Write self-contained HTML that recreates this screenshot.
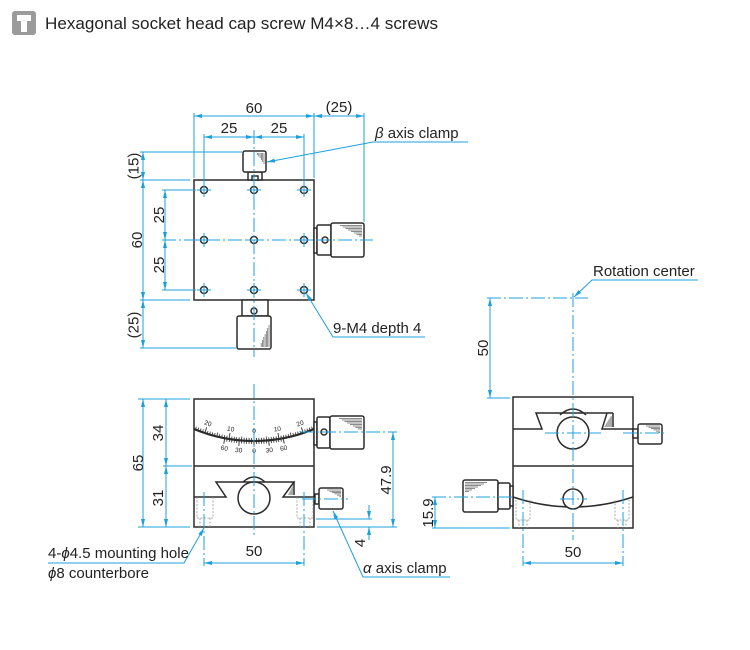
<!DOCTYPE html>
<html><head><meta charset="utf-8"><style>
html,body{margin:0;padding:0;background:#fff;}
svg{display:block;}
text{font-family:"Liberation Sans",Arial,sans-serif;fill:#222;}
</style></head><body>
<svg width="750" height="650" viewBox="0 0 750 650" xmlns="http://www.w3.org/2000/svg">
<defs>
<marker id="a" viewBox="0 0 8 4" refX="8" refY="2" markerWidth="8" markerHeight="4" markerUnits="userSpaceOnUse" orient="auto-start-reverse"><path d="M0,0L8,2L0,4z" fill="#1ca0dc"/></marker>
<line id="ts" x1="254" y1="441" x2="254" y2="438" stroke="#2b2b2b" stroke-width="0.8"/>
<line id="tm" x1="254" y1="441" x2="254" y2="437" stroke="#2b2b2b" stroke-width="0.8"/>
<line id="tl" x1="254" y1="441" x2="254" y2="435" stroke="#2b2b2b" stroke-width="0.9"/>
<line id="vs" x1="254" y1="441" x2="254" y2="444" stroke="#2b2b2b" stroke-width="0.8"/>
<line id="vl" x1="254" y1="441" x2="254" y2="446.5" stroke="#2b2b2b" stroke-width="0.9"/>
</defs>
<rect width="750" height="650" fill="#fff"/>

<!-- header -->
<rect x="12" y="11" width="24" height="24" rx="3" fill="#9b9b9b"/>
<path d="M17,15h14v6h-4v11h-6v-11h-4z" fill="#fff"/>
<text x="45" y="29" font-size="17" textLength="393" lengthAdjust="spacingAndGlyphs">Hexagonal socket head cap screw M4×8…4 screws</text>

<!-- ============ DARK GEOMETRY ============ -->
<g stroke="#2b2b2b" stroke-width="1.5" fill="#fff">
  <!-- top view -->
  <rect x="194" y="180" width="120" height="120"/>
  <rect x="248" y="172" width="14" height="8"/>
  <rect x="252" y="176" width="6" height="4"/>
  <rect x="243" y="151" width="23" height="21" rx="2"/>
  <rect x="314" y="228" width="3" height="25"/>
  <rect x="317" y="225" width="14" height="30" rx="1.5"/>
  <rect x="331" y="223" width="33" height="34" rx="2"/>
  <circle cx="325" cy="240" r="3"/>
  <rect x="242" y="300" width="26" height="16"/>
  <rect x="237" y="316" width="34" height="33" rx="2"/>
  <circle cx="254" cy="311" r="3"/>
  <circle cx="204" cy="190" r="3.5"/><circle cx="254" cy="190" r="3.5"/><circle cx="304" cy="190" r="3.5"/>
  <circle cx="204" cy="240" r="3.5"/><circle cx="254" cy="240" r="3.5"/><circle cx="304" cy="240" r="3.5"/>
  <circle cx="204" cy="290" r="3.5"/><circle cx="254" cy="290" r="3.5"/><circle cx="304" cy="290" r="3.5"/>

  <!-- front view -->
  <rect x="194" y="399" width="120" height="128"/>
  <path d="M194,466H314" fill="none"/>
  <path d="M194,497H226L216,482H294L283,497H314" fill="none"/>
  <path d="M294,482V495" fill="none"/>
  <circle cx="254" cy="498" r="16"/>
  <path d="M243,482Q254,472 265,482" fill="none"/>
  <rect x="314" y="422" width="3" height="23"/>
  <rect x="317" y="417" width="13" height="31" rx="1.5"/>
  <rect x="330" y="416" width="34" height="33" rx="2"/>
  <circle cx="324" cy="432" r="3"/>
  <rect x="315" y="494" width="4" height="10"/>
  <rect x="319" y="488" width="24" height="21" rx="2"/>

  <!-- side view -->
  <rect x="513" y="397" width="120" height="131"/>
  <path d="M513,466H633" fill="none"/>
  <path d="M513,429H542L536,413H613M607,413L602,429H633M613,413V427" fill="none"/>
  <circle cx="573" cy="433" r="16"/>
  <path d="M560,415Q573,403 586,415" fill="none"/>
  <path d="M513,497Q573,517 633,497" fill="none"/>
  <circle cx="573" cy="499" r="10"/>
  <rect x="633" y="429" width="5" height="9"/>
  <rect x="638" y="424" width="24" height="20" rx="2"/>
  <rect x="463" y="480" width="35" height="32" rx="2"/>
  <rect x="498" y="483" width="12" height="26" rx="1.5"/>
  <rect x="510" y="486" width="3" height="20"/>
</g>
<polygon points="288,495 293,485 293,495" fill="#aaa"/>
<polygon points="604,427 611,416 612,416 612,427" fill="#aaa"/>

<!-- scale arc -->
<path d="M194,429A156,156 0 0 0 314,429" fill="none" stroke="#2b2b2b" stroke-width="2.2"/>
<g>
<use href="#ts" transform="rotate(22.08 254 285)"/><use href="#ts" transform="rotate(21.16 254 285)"/><use href="#ts" transform="rotate(20.24 254 285)"/><use href="#ts" transform="rotate(19.32 254 285)"/><use href="#tl" transform="rotate(18.4 254 285)"/><use href="#ts" transform="rotate(17.48 254 285)"/><use href="#ts" transform="rotate(16.56 254 285)"/><use href="#ts" transform="rotate(15.64 254 285)"/><use href="#ts" transform="rotate(14.72 254 285)"/><use href="#tm" transform="rotate(13.8 254 285)"/><use href="#ts" transform="rotate(12.88 254 285)"/><use href="#ts" transform="rotate(11.96 254 285)"/><use href="#ts" transform="rotate(11.04 254 285)"/><use href="#ts" transform="rotate(10.12 254 285)"/><use href="#tl" transform="rotate(9.2 254 285)"/><use href="#ts" transform="rotate(8.28 254 285)"/><use href="#ts" transform="rotate(7.36 254 285)"/><use href="#ts" transform="rotate(6.44 254 285)"/><use href="#ts" transform="rotate(5.52 254 285)"/><use href="#tm" transform="rotate(4.6 254 285)"/><use href="#ts" transform="rotate(3.68 254 285)"/><use href="#ts" transform="rotate(2.76 254 285)"/><use href="#ts" transform="rotate(1.84 254 285)"/><use href="#ts" transform="rotate(0.92 254 285)"/><use href="#tl"/>
<use href="#ts" transform="rotate(-22.08 254 285)"/><use href="#ts" transform="rotate(-21.16 254 285)"/><use href="#ts" transform="rotate(-20.24 254 285)"/><use href="#ts" transform="rotate(-19.32 254 285)"/><use href="#tl" transform="rotate(-18.4 254 285)"/><use href="#ts" transform="rotate(-17.48 254 285)"/><use href="#ts" transform="rotate(-16.56 254 285)"/><use href="#ts" transform="rotate(-15.64 254 285)"/><use href="#ts" transform="rotate(-14.72 254 285)"/><use href="#tm" transform="rotate(-13.8 254 285)"/><use href="#ts" transform="rotate(-12.88 254 285)"/><use href="#ts" transform="rotate(-11.96 254 285)"/><use href="#ts" transform="rotate(-11.04 254 285)"/><use href="#ts" transform="rotate(-10.12 254 285)"/><use href="#tl" transform="rotate(-9.2 254 285)"/><use href="#ts" transform="rotate(-8.28 254 285)"/><use href="#ts" transform="rotate(-7.36 254 285)"/><use href="#ts" transform="rotate(-6.44 254 285)"/><use href="#ts" transform="rotate(-5.52 254 285)"/><use href="#tm" transform="rotate(-4.6 254 285)"/><use href="#ts" transform="rotate(-3.68 254 285)"/><use href="#ts" transform="rotate(-2.76 254 285)"/><use href="#ts" transform="rotate(-1.84 254 285)"/><use href="#ts" transform="rotate(-0.92 254 285)"/>
<use href="#vl" transform="rotate(10.8 254 285)"/><use href="#vs" transform="rotate(9.9 254 285)"/><use href="#vs" transform="rotate(9 254 285)"/><use href="#vs" transform="rotate(8.1 254 285)"/><use href="#vs" transform="rotate(7.2 254 285)"/><use href="#vs" transform="rotate(6.3 254 285)"/><use href="#vl" transform="rotate(5.4 254 285)"/><use href="#vs" transform="rotate(4.5 254 285)"/><use href="#vs" transform="rotate(3.6 254 285)"/><use href="#vs" transform="rotate(2.7 254 285)"/><use href="#vs" transform="rotate(1.8 254 285)"/><use href="#vs" transform="rotate(0.9 254 285)"/><use href="#vl"/>
<use href="#vl" transform="rotate(-10.8 254 285)"/><use href="#vs" transform="rotate(-9.9 254 285)"/><use href="#vs" transform="rotate(-9 254 285)"/><use href="#vs" transform="rotate(-8.1 254 285)"/><use href="#vs" transform="rotate(-7.2 254 285)"/><use href="#vs" transform="rotate(-6.3 254 285)"/><use href="#vl" transform="rotate(-5.4 254 285)"/><use href="#vs" transform="rotate(-4.5 254 285)"/><use href="#vs" transform="rotate(-3.6 254 285)"/><use href="#vs" transform="rotate(-2.7 254 285)"/><use href="#vs" transform="rotate(-1.8 254 285)"/><use href="#vs" transform="rotate(-0.9 254 285)"/>
</g>
<g font-size="6.5" text-anchor="middle">
<text x="254" y="433" transform="rotate(18.4 254 285)">20</text>
<text x="254" y="433" transform="rotate(9.2 254 285)">10</text>
<text x="254" y="433">0</text>
<text x="254" y="433" transform="rotate(-9.2 254 285)">10</text>
<text x="254" y="433" transform="rotate(-18.4 254 285)">20</text>
<text x="254" y="453" transform="rotate(10.3 254 285)">60</text>
<text x="254" y="453" transform="rotate(5.3 254 285)">30</text>
<text x="254" y="453">0</text>
<text x="254" y="453" transform="rotate(-5.3 254 285)">30</text>
<text x="254" y="453" transform="rotate(-10.3 254 285)">60</text>
</g>

<!-- dashed counterbores -->
<g stroke="#999" stroke-width="0.8" fill="none" stroke-dasharray="2 1.5">
  <path d="M197,497V518H213V497M200,518V527M210,518V527"/>
  <path d="M297,497V518H313V497M300,518V527M310,518V527"/>
  <path d="M516,500V520H530V500M519,520V528M527,520V528"/>
  <path d="M615,500V520H629V500M618,520V528M626,520V528"/>
</g>

<!-- knob hatching -->
<g stroke="#666" stroke-width="0.7">
  <path d="M340,225.5H362M342.7,227H362M345.5,228.5H362M348,230H362M351,231.5H362M354,233H362M356.5,234.5H362M359,236H362"/>
  <path d="M339,418.5H362M341.7,420H362M344.5,421.5H362M347,423H362M350,424.5H362M353,426H362M355.5,427.5H362M358,429H362"/>
  <path d="M327,490H341M329.5,491.3H341M332,492.6H341M334.5,493.9H341M337,495.2H341M339.5,496.5H341"/>
  <path d="M646,426H660M648.5,427.3H660M651,428.6H660M653.5,429.9H660M656,431.2H660M658.5,432.5H660"/>
  <path d="M465,482.5H487M465,484H484M465,485.5H481M465,487H478M465,488.5H475M465,490H472M465,491.5H469"/>
  <path d="M264,153V164M262.7,153V162M261.4,153V160M260.1,153V158M258.8,153V156.5M257.5,153V155"/>
  <path d="M269,347V325M267.7,347V328M266.4,347V331M265.1,347V334M263.8,347V337M262.5,347V340M261.2,347V343"/>
</g>

<!-- ============ BLUE LINES ============ -->
<g stroke="#1ca0dc" stroke-width="1" fill="none">
  <!-- extension lines -->
  <path d="M194,113V178M314,113V178M364,113V222M204,134V186M304,134V186M140,152H242M140,180H190M140,300H190M140,348H236M162,190H196M162,290H196"/>
  <path d="M138,399H190M163,466H192M138,527H190M317,527H397M316,519H372"/>
  <path d="M487,398H510M432,528H510"/>
  <!-- hole crosses -->
  <path d="M197,190H211M204,183V197M247,190H261M254,183V197M297,190H311M304,183V197M197,240H211M204,233V247M247,240H261M297,240H311M304,233V247M197,290H211M204,283V297M247,290H261M254,283V297M297,290H311M304,283V297"/>
  <!-- center lines -->
  <g stroke-dasharray="14 3 2 3">
    <path d="M254,130V357M162,240H373"/>
    <path d="M254,384V537M300,432H397M302,499H348M204,492V566M304,492V566"/>
    <path d="M573,293V540M487,298H588M432,497H513M623,433H667M545,433H601M560,499H587M523,490V566M623,490V566"/>
  </g>
  <!-- dimension lines -->
  <g marker-start="url(#a)" marker-end="url(#a)">
    <line x1="194" y1="116" x2="314" y2="116"/>
    <line x1="314" y1="116" x2="364" y2="116"/>
    <line x1="204" y1="137" x2="254" y2="137"/>
    <line x1="254" y1="137" x2="304" y2="137"/>
    <line x1="143" y1="152" x2="143" y2="180"/>
    <line x1="143" y1="180" x2="143" y2="300"/>
    <line x1="143" y1="300" x2="143" y2="348"/>
    <line x1="165" y1="190" x2="165" y2="240"/>
    <line x1="165" y1="240" x2="165" y2="290"/>
    <line x1="143" y1="399" x2="143" y2="527"/>
    <line x1="166" y1="399" x2="166" y2="466"/>
    <line x1="166" y1="466" x2="166" y2="527"/>
    <line x1="393" y1="432" x2="393" y2="527"/>
    <line x1="204" y1="563" x2="304" y2="563"/>
    <line x1="490" y1="298" x2="490" y2="398"/>
    <line x1="435" y1="497" x2="435" y2="528"/>
    <line x1="523" y1="563" x2="623" y2="563"/>
  </g>
  <g marker-end="url(#a)">
    <line x1="369" y1="505" x2="369" y2="519"/>
    <line x1="369" y1="540" x2="369" y2="527"/>
    <polyline points="468,142 373,142 267,162"/>
    <polyline points="425,337 333,337 306,293"/>
    <polyline points="48,563 184,563 204,528"/>
    <polyline points="450,577 363,577 333,511"/>
    <polyline points="698,280 592,280 574,297"/>
  </g>
</g>

<!-- ============ TEXT ============ -->
<g font-size="15">
  <text x="254" y="113" text-anchor="middle">60</text>
  <text x="339" y="112" text-anchor="middle">(25)</text>
  <text x="229" y="133" text-anchor="middle">25</text>
  <text x="279" y="133" text-anchor="middle">25</text>
  <text x="375" y="138"><tspan font-style="italic">β</tspan>  axis clamp</text>
  <text x="333" y="333">9-M4 depth 4</text>
  <text transform="translate(138.5,166) rotate(-90)" text-anchor="middle">(15)</text>
  <text transform="translate(142,240) rotate(-90)" text-anchor="middle">60</text>
  <text transform="translate(164,215) rotate(-90)" text-anchor="middle">25</text>
  <text transform="translate(164,265) rotate(-90)" text-anchor="middle">25</text>
  <text transform="translate(138.5,325) rotate(-90)" text-anchor="middle">(25)</text>

  <text transform="translate(143,463) rotate(-90)" text-anchor="middle">65</text>
  <text transform="translate(163,433) rotate(-90)" text-anchor="middle">34</text>
  <text transform="translate(163,498) rotate(-90)" text-anchor="middle">31</text>
  <text transform="translate(391,480) rotate(-90)" text-anchor="middle">47.9</text>
  <text transform="translate(365,543) rotate(-90)" text-anchor="middle">4</text>
  <text x="254" y="556" text-anchor="middle">50</text>
  <text x="48" y="558">4-<tspan font-style="italic">ϕ</tspan>4.5 mounting hole</text>
  <text x="48" y="578"><tspan font-style="italic">ϕ</tspan>8 counterbore</text>
  <text x="363" y="573"><tspan font-style="italic">α</tspan>  axis clamp</text>

  <text x="593" y="276">Rotation center</text>
  <text transform="translate(488,348) rotate(-90)" text-anchor="middle">50</text>
  <text transform="translate(433,513) rotate(-90)" text-anchor="middle">15.9</text>
  <text x="573" y="557" text-anchor="middle">50</text>
</g>
</svg>
</body></html>
